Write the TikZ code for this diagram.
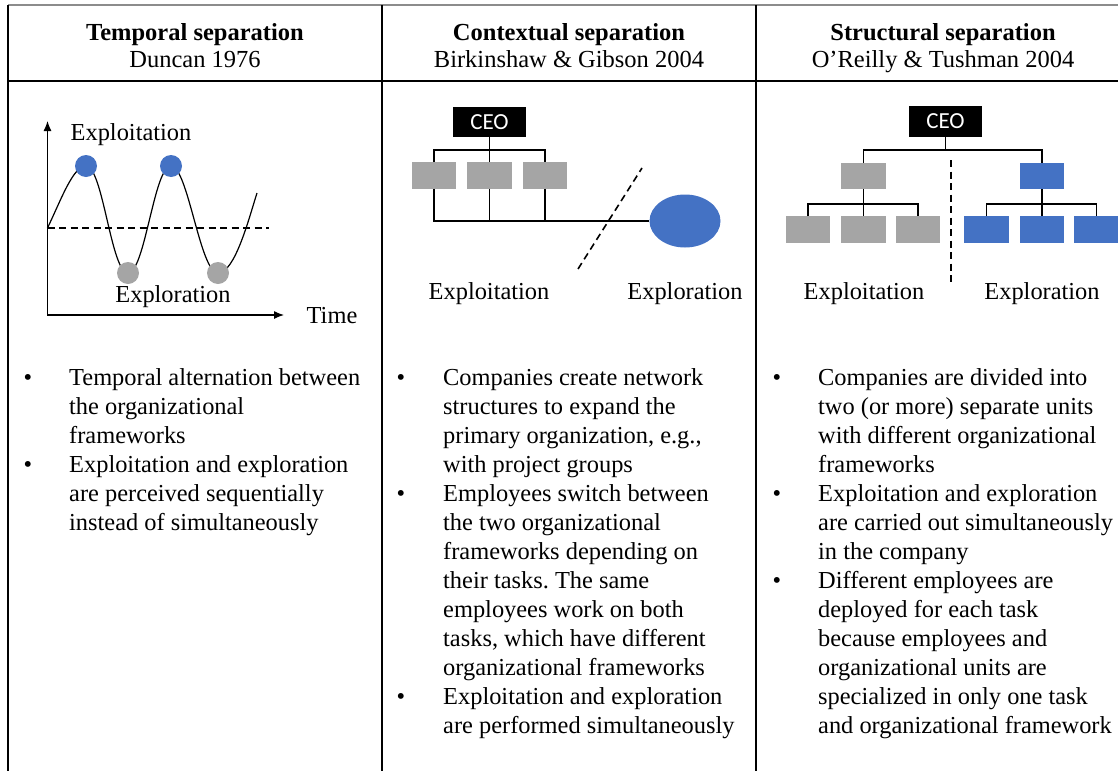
\documentclass[tikz,border=0pt]{standalone}
\usepackage{fontspec}
\setmainfont{Liberation Serif}
\newfontfamily\ceofont{Carlito}
\usetikzlibrary{arrows.meta,shapes.geometric}
\definecolor{unitblue}{HTML}{4472C4}
\definecolor{unitgray}{HTML}{A5A5A5}
\definecolor{rulegray}{HTML}{8C8C8C}
\newcommand\bodyfont{\fontsize{24.4}{29}\selectfont}
\newcommand\headfont{\fontsize{24.5}{28}\selectfont}
\newcommand\itemtext[1]{\parbox[t]{320pt}{\bodyfont\frenchspacing\raggedright #1}}
\tikzset{
  frame/.style={line width=1.6pt},
  conn/.style={line width=1.2pt},
  sepline/.style={line width=1.6pt, dash pattern=on 7pt off 4.5pt},
  label/.style={font=\bodyfont, anchor=base, inner sep=0},
  ceobox/.style={fill=black, text=white, font=\ceofont\fontsize{23}{23}\selectfont,
    minimum width=73pt, minimum height=30.5pt, inner sep=0},
  graybox/.style={fill=unitgray, minimum width=44.5pt, minimum height=26.5pt, inner sep=0},
  bluebox/.style={fill=unitblue, minimum width=44.5pt, minimum height=26.5pt, inner sep=0},
  dot/.style={circle, minimum size=22pt, inner sep=0},
  bullet/.style={font=\bodyfont, anchor=base, inner sep=0},
  item/.style={anchor=base west, inner sep=0},
}
\begin{document}
\begin{tikzpicture}[x=1pt, y=-1pt]
\useasboundingbox (0,0) rectangle (1118,771);

% table rules
\draw[frame, rulegray] (8,5) -- (1118,5);
\draw[frame] (8,5) -- (8,771);
\draw[frame] (382,5) -- (382,771);
\draw[frame] (756,5) -- (756,771);
\draw[frame] (8,81) -- (1118,81);

% headers
\node[anchor=base, inner sep=0, font=\headfont\bfseries] (h1) at (195,40) {Temporal separation};
\node[anchor=base, inner sep=0, font=\headfont] (s1) at (195,67) {Duncan 1976};
\node[anchor=base, inner sep=0, font=\headfont\bfseries] (h2) at (569,40) {Contextual separation};
\node[anchor=base, inner sep=0, font=\headfont] (s2) at (569,67) {Birkinshaw \& Gibson 2004};
\node[anchor=base, inner sep=0, font=\headfont\bfseries] (h3) at (943,40) {Structural separation};
\node[anchor=base, inner sep=0, font=\headfont] (s3) at (943,67) {O’Reilly \& Tushman 2004};

% ---------- temporal separation: alternating curve ----------
\coordinate (O) at (47.5,315);
\coordinate (ytip) at (47.5,121);
\coordinate (xtip) at (284,315);
\draw[conn, {Latex[length=10pt,width=8pt]}-{Latex[length=10pt,width=8pt]}] (ytip) -- (O) -- (xtip);
\coordinate (mid0) at (47.5,228);
\coordinate (mid1) at (269,228);
\draw[sepline] (mid0) -- (mid1);

\coordinate (pk1) at (86,166);
\coordinate (tr1) at (128,273);
\coordinate (pk2) at (171,166);
\coordinate (tr2) at (218,273);
\coordinate (cend) at (257,193);
\draw[conn] (mid0) .. controls (61,200) and (73,166) .. (pk1)
  .. controls (103,166) and (111,273) .. (tr1)
  .. controls (145,273) and (154,166) .. (pk2)
  .. controls (188,166) and (200,273) .. (tr2)
  .. controls (235,273) and (249,218) .. (cend);
\node[dot, fill=unitblue] (p1) at (pk1) {};
\node[dot, fill=unitblue] (p2) at (pk2) {};
\node[dot, fill=unitgray] (t1) at (tr1) {};
\node[dot, fill=unitgray] (t2) at (tr2) {};
\node[label] (lx1) at (131,140) {Exploitation};
\node[label] (lr1) at (173,302) {Exploration};
\node[label] (ltime) at (332,323) {Time};

% ---------- contextual separation ----------
\node[ceobox] (ceo2) at (489.5,122) {CEO};
\node[graybox] (g1) at (434,175.5) {};
\node[graybox] (g2) at (489.5,175.5) {};
\node[graybox] (g3) at (545,175.5) {};
\node[ellipse, fill=unitblue, minimum width=71pt, minimum height=53pt, inner sep=0] (proj) at (685,221) {};
\coordinate (bus2) at (489.5,150);
\draw[conn] (ceo2.south) -- (g2.north);
\draw[conn] (g1.north) |- (bus2) -| (g3.north);
\draw[conn] (g1.south) |- (proj.west);
\draw[conn] (g2.south) -- (g2.south |- proj.west);
\draw[conn] (g3.south) -- (g3.south |- proj.west);
\coordinate (cut1) at (578,269);
\coordinate (cut2) at (642,168);
\draw[sepline] (cut1) -- (cut2);
\node[label] (lx2) at (489,299) {Exploitation};
\node[label] (lr2) at (685,299) {Exploration};

% ---------- structural separation ----------
\node[ceobox] (ceo3) at (945.5,121.5) {CEO};
\node[graybox] (m1) at (863.5,176) {};
\node[bluebox] (m2) at (1042,176) {};
\node[graybox] (l1) at (808,229.5) {};
\node[graybox] (l2) at (863.5,229.5) {};
\node[graybox] (l3) at (918,229.5) {};
\node[bluebox] (r1) at (986.5,229.5) {};
\node[bluebox] (r2) at (1042,229.5) {};
\node[bluebox] (r3) at (1096.5,229.5) {};
\coordinate (bus3) at (945.5,150);
\coordinate (busl) at (863.5,204);
\coordinate (busr) at (1042,204);
\draw[conn] (ceo3.south) -- (bus3);
\draw[conn] (m1.north) |- (bus3) -| (m2.north);
\draw[conn] (m1.south) -- (l2.north);
\draw[conn] (l1.north) |- (busl) -| (l3.north);
\draw[conn] (m2.south) -- (r2.north);
\draw[conn] (r1.north) |- (busr) -| (r3.north);
\coordinate (split1) at (951,160);
\coordinate (split2) at (951,283);
\draw[sepline] (split1) -- (split2);
\node[label] (lx3) at (864,299) {Exploitation};
\node[label] (lr3) at (1042,299) {Exploration};

% ---------- bullet lists ----------
\node[bullet] (b11) at (28,385) {•};
\node[item] (i11) at (69,385) {\itemtext{Temporal alternation between\\the organizational\\frameworks}};
\node[bullet] (b12) at (28,472) {•};
\node[item] (i12) at (69,472) {\itemtext{Exploitation and exploration\\are perceived sequentially\\instead of simultaneously}};

\node[bullet] (b21) at (401,385) {•};
\node[item] (i21) at (443,385) {\itemtext{Companies create network\\structures to expand the\\primary organization, e.g.,\\with project groups}};
\node[bullet] (b22) at (401,501) {•};
\node[item] (i22) at (443,501) {\itemtext{Employees switch between\\the two organizational\\frameworks depending on\\their tasks. The same\\employees work on both\\tasks, which have different\\organizational frameworks}};
\node[bullet] (b23) at (401,704) {•};
\node[item] (i23) at (443,704) {\itemtext{Exploitation and exploration\\are performed simultaneously}};

\node[bullet] (b31) at (777,385) {•};
\node[item] (i31) at (818,385) {\itemtext{Companies are divided into\\two (or more) separate units\\with different organizational\\frameworks}};
\node[bullet] (b32) at (777,501) {•};
\node[item] (i32) at (818,501) {\itemtext{Exploitation and exploration\\are carried out simultaneously\\in the company}};
\node[bullet] (b33) at (777,588) {•};
\node[item] (i33) at (818,588) {\itemtext{Different employees are\\deployed for each task\\because employees and\\organizational units are\\specialized in only one task\\and organizational framework}};
\end{tikzpicture}
\end{document}
